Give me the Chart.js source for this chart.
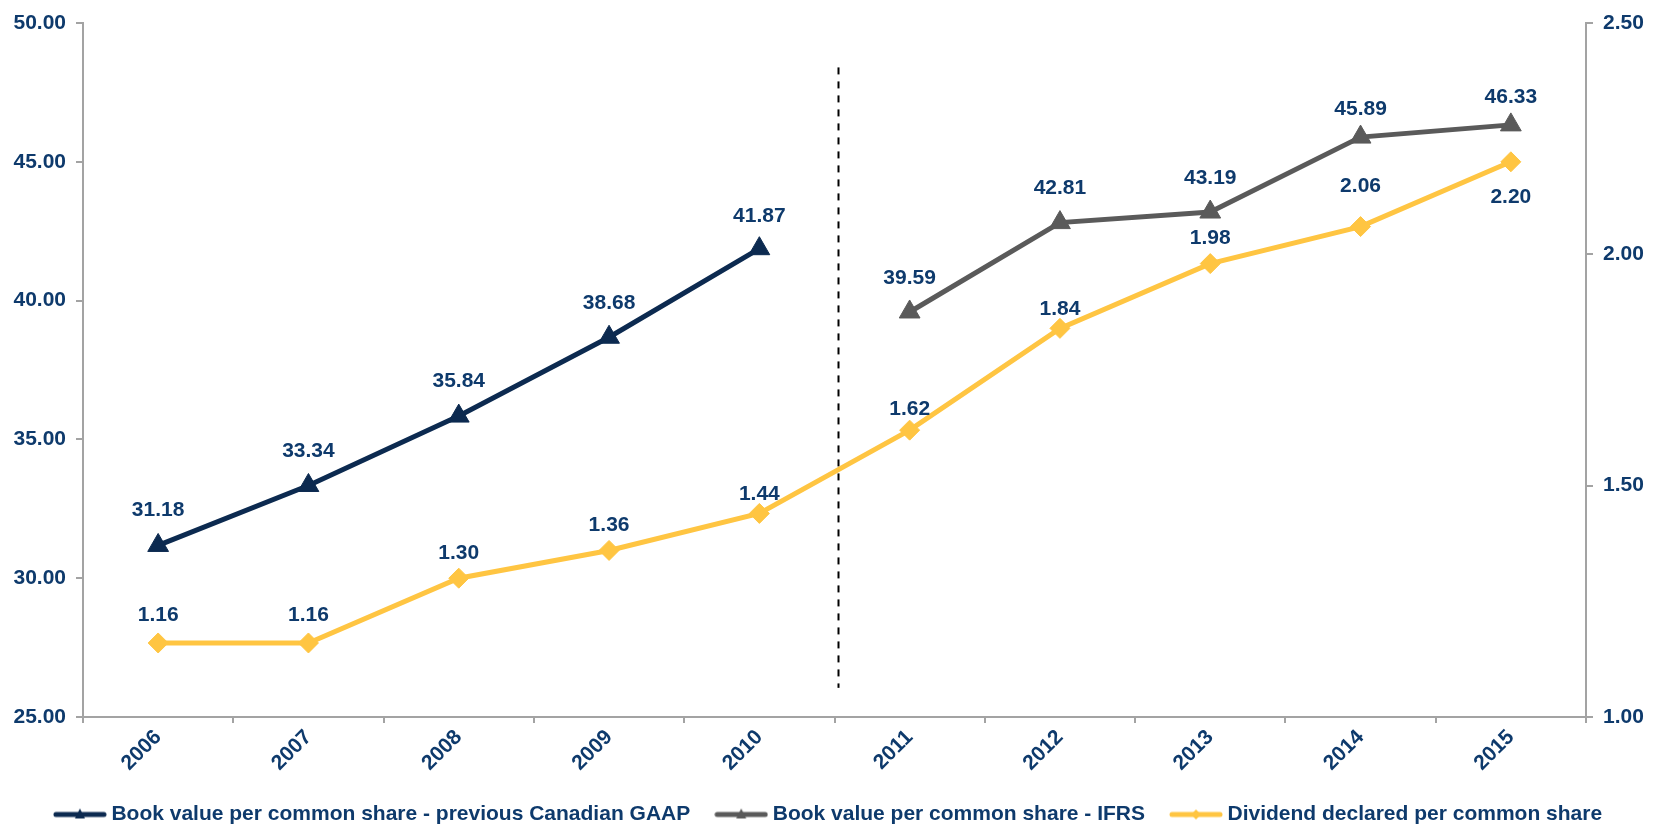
<!DOCTYPE html>
<html>
<head>
<meta charset="utf-8">
<script src="https://cdn.jsdelivr.net/npm/chart.js@4.4.0/dist/chart.umd.min.js"></script>
<style>
  html, body { margin: 0; padding: 0; background: #fff; }
  #wrap { width: 1661px; height: 837px; }
</style>
</head>
<body>
<div id="wrap"><canvas id="myChart" width="1661" height="837"></canvas></div>
<script>
let years = ["2006", "2007", "2008", "2009", "2010", "2011", "2012", "2013", "2014", "2015"],
  bookGaap = [31.18, 33.34, 35.84, 38.68, 41.87, null, null, null, null, null],
  bookIfrs = [null, null, null, null, null, 39.59, 42.81, 43.19, 45.89, 46.33],
  dividend = [1.16, 1.16, 1.30, 1.36, 1.44, 1.62, 1.84, 1.98, 2.06, 2.20],
  leftTicks = [25, 30, 35, 40, 45, 50],
  rightTicks = [1.0, 1.5, 2.0, 2.5],
  seriesNames = [
    "Book value per common share - previous Canadian GAAP",
    "Book value per common share - IFRS",
    "Dividend declared per common share",
  ];

// where each value label sits relative to its point (px, negative = above)
let gaapLabelOffset = [-35, -34, -35, -34, -32, 0, 0, 0, 0, 0],
  ifrsLabelOffset = [0, 0, 0, 0, 0, -34, -34, -34, -28, -28],
  divLabelOffset = [-28, -28, -25, -25, -19, -21, -19, -25, -40, 35];

const navy = "#0c2a50",
  grey = "#5a5a5a",
  gold = "#ffc542",
  textNavy = "#0e3a6c",
  axisGrey = "#a3a3a3",
  fontFamily = "'Liberation Sans', Arial, sans-serif";

function legendIcon(color, shape) {
  const c = document.createElement("canvas");
  c.width = 54;
  c.height = 16;
  const g = c.getContext("2d");
  g.strokeStyle = color;
  g.fillStyle = color;
  g.lineWidth = 5;
  g.lineCap = "round";
  g.beginPath();
  g.moveTo(3, 8);
  g.lineTo(51, 8);
  g.stroke();
  g.beginPath();
  if (shape == "triangle") {
    g.moveTo(27, 2);
    g.lineTo(32, 12);
    g.lineTo(22, 12);
  } else {
    g.moveTo(27, 3);
    g.lineTo(32, 8);
    g.lineTo(27, 13);
    g.lineTo(22, 8);
  }
  g.fill();
  return c;
}

const legendIcons = [
  legendIcon(navy, "triangle"),
  legendIcon(grey, "triangle"),
  legendIcon(gold, "diamond"),
];

// value written above / below every point
const valueLabels = {
  id: "valueLabels",
  afterDatasetsDraw(chart) {
    const ctx = chart.ctx;
    ctx.save();
    ctx.font = "bold 21px " + fontFamily;
    ctx.fillStyle = textNavy;
    ctx.textAlign = "center";
    ctx.textBaseline = "middle";
    chart.data.datasets.forEach((ds, i) => {
      chart.getDatasetMeta(i).data.forEach((pt, j) => {
        let v = ds.data[j];
        if (v == null) return;
        ctx.fillText(v.toFixed(2), pt.x, pt.y + ds.labelOffsets[j]);
      });
    });
    ctx.restore();
  },
};

// dashed line splitting GAAP years from IFRS years
const splitLine = {
  id: "splitLine",
  beforeDatasetsDraw(chart) {
    const x = chart.scales.x,
      y = chart.scales.y,
      ctx = chart.ctx;
    let px = (x.getPixelForValue(4) + x.getPixelForValue(5)) / 2 + 4;
    ctx.save();
    ctx.strokeStyle = "#000";
    ctx.lineWidth = 2;
    ctx.setLineDash([7, 7]);
    ctx.beginPath();
    ctx.moveTo(px, y.getPixelForValue(48.4));
    ctx.lineTo(px, y.getPixelForValue(26.05));
    ctx.stroke();
    ctx.restore();
  },
};

const ctx = document.getElementById("myChart").getContext("2d");
const myChart = new Chart(ctx, {
  type: "line",
  data: {
    labels: years,
    datasets: [
      {
        label: seriesNames[0],
        data: bookGaap,
        yAxisID: "y",
        borderColor: navy,
        backgroundColor: navy,
        borderWidth: 5,
        pointStyle: "triangle",
        pointRadius: 12,
        pointBorderWidth: 1,
        labelOffsets: gaapLabelOffset,
      },
      {
        label: seriesNames[1],
        data: bookIfrs,
        yAxisID: "y",
        borderColor: grey,
        backgroundColor: grey,
        borderWidth: 5,
        pointStyle: "triangle",
        pointRadius: 12,
        pointBorderWidth: 1,
        labelOffsets: ifrsLabelOffset,
      },
      {
        label: seriesNames[2],
        data: dividend,
        yAxisID: "y1",
        borderColor: gold,
        backgroundColor: gold,
        borderWidth: 5,
        pointStyle: "rectRot",
        pointRadius: 10,
        pointBorderWidth: 1,
        labelOffsets: divLabelOffset,
      },
    ],
  },
  options: {
    responsive: false,
    animation: false,
    spanGaps: false,
    layout: { padding: { top: 23, bottom: 2, left: 0, right: 0 } },
    plugins: {
      tooltip: { enabled: false },
      legend: {
        position: "bottom",
        labels: {
          usePointStyle: true,
          pointStyleWidth: 42,
          padding: 30,
          color: textNavy,
          font: { family: fontFamily, size: 21, weight: "bold" },
          generateLabels: (chart) =>
            chart.data.datasets.map((ds, i) => ({
              text: ds.label,
              pointStyle: legendIcons[i],
              fontColor: textNavy,
              lineWidth: 0,
              datasetIndex: i,
              hidden: false,
            })),
        },
      },
    },
    scales: {
      x: {
        offset: true,
        grid: {
          offset: true,
          drawOnChartArea: false,
          tickLength: 6,
          color: axisGrey,
          lineWidth: 2,
        },
        border: { color: axisGrey, width: 2 },
        ticks: {
          minRotation: 45,
          maxRotation: 45,
          padding: 2,
          color: textNavy,
          font: { family: fontFamily, size: 21, weight: "bold" },
        },
        afterFit(scale) {
          scale.height = 57;
        },
      },
      y: {
        position: "left",
        min: leftTicks[0],
        max: leftTicks[leftTicks.length - 1],
        grid: {
          drawOnChartArea: false,
          tickLength: 7,
          color: axisGrey,
          lineWidth: 2,
        },
        border: { color: axisGrey, width: 2 },
        ticks: {
          stepSize: leftTicks[1] - leftTicks[0],
          padding: 10,
          color: textNavy,
          font: { family: fontFamily, size: 21, weight: "bold" },
          callback: (v) => Number(v).toFixed(2),
        },
        afterFit(scale) {
          scale.width = 83;
        },
      },
      y1: {
        position: "right",
        min: rightTicks[0],
        max: rightTicks[rightTicks.length - 1],
        grid: {
          drawOnChartArea: false,
          tickLength: 7,
          color: axisGrey,
          lineWidth: 2,
        },
        border: { color: axisGrey, width: 2 },
        ticks: {
          stepSize: rightTicks[1] - rightTicks[0],
          padding: 10,
          color: textNavy,
          font: { family: fontFamily, size: 21, weight: "bold" },
          callback: (v) => Number(v).toFixed(2),
        },
        afterFit(scale) {
          scale.width = 75;
        },
      },
    },
  },
  plugins: [splitLine, valueLabels],
});
</script>
</body>
</html>
